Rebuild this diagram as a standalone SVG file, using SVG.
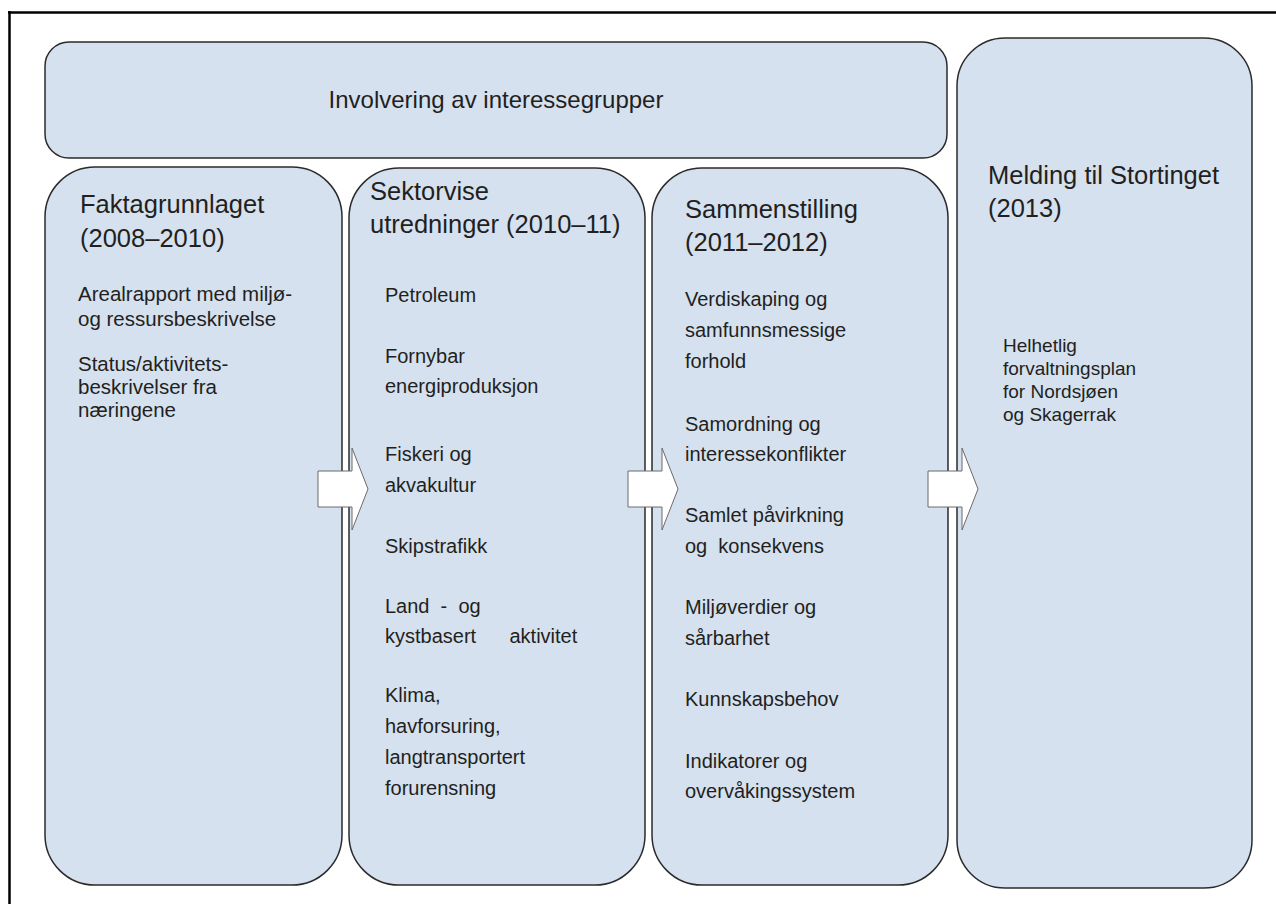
<svg xmlns="http://www.w3.org/2000/svg" width="1276" height="904" viewBox="0 0 1276 904">
<style>
.box{fill:#d5e1ef;stroke:#2b2b2b;stroke-width:1.5}
.t{font-family:"Liberation Sans",Arial,sans-serif;fill:#231f20}
.h{font-size:25.5px}
.b{font-size:20px}
.s{font-size:19px}
.arrow{fill:#ffffff;stroke:#6b6b6b;stroke-width:1}
</style>
<rect width="1276" height="904" fill="#ffffff"/>
<g id="frame">
<line x1="8" y1="12.5" x2="1276" y2="12.5" stroke="#000" stroke-width="2.5"/>
<line x1="9.5" y1="11" x2="9.5" y2="904" stroke="#000" stroke-width="2.5"/>
</g>
<g id="top">
<rect class="box" x="45" y="42" width="902" height="116" rx="24"/>
<text class="t" x="496" y="108" font-size="24" text-anchor="middle">Involvering av interessegrupper</text>
</g>
<g id="col1">
<rect class="box" x="45" y="167" width="297" height="718" rx="50"/>
<text class="t h" x="80" y="213">Faktagrunnlaget</text>
<text class="t h" x="80" y="247">(2008–2010)</text>
<text class="t" font-size="20.5" x="78" y="301">Arealrapport med miljø-</text>
<text class="t" font-size="20.5" x="78" y="326">og ressursbeskrivelse</text>
<text class="t" font-size="20.5" x="78" y="371">Status/aktivitets-</text>
<text class="t" font-size="20.5" x="78" y="394">beskrivelser fra</text>
<text class="t" font-size="20.5" x="78" y="417">næringene</text>
</g>
<g id="col2">
<rect class="box" x="349" y="168" width="296" height="717" rx="50"/>
<text class="t h" x="370" y="200">Sektorvise</text>
<text class="t h" x="370" y="233">utredninger (2010–11)</text>
<text class="t b" x="385" y="302">Petroleum</text>
<text class="t b" x="385" y="363">Fornybar</text>
<text class="t b" x="385" y="393">energiproduksjon</text>
<text class="t b" x="385" y="461">Fiskeri og</text>
<text class="t b" x="385" y="492">akvakultur</text>
<text class="t b" x="385" y="553">Skipstrafikk</text>
<text class="t b" x="385" y="613" xml:space="preserve">Land  -  og</text>
<text class="t b" x="385" y="643" xml:space="preserve">kystbasert      aktivitet</text>
<text class="t b" x="385" y="702">Klima,</text>
<text class="t b" x="385" y="733">havforsuring,</text>
<text class="t b" x="385" y="764">langtransportert</text>
<text class="t b" x="385" y="795">forurensning</text>
</g>
<g id="col3">
<rect class="box" x="652" y="168" width="296" height="717" rx="50"/>
<text class="t h" x="685" y="218">Sammenstilling</text>
<text class="t h" x="685" y="251">(2011–2012)</text>
<text class="t b" x="685" y="306">Verdiskaping og</text>
<text class="t b" x="685" y="337">samfunnsmessige</text>
<text class="t b" x="685" y="368">forhold</text>
<text class="t b" x="685" y="431">Samordning og</text>
<text class="t b" x="685" y="461">interessekonflikter</text>
<text class="t b" x="685" y="522">Samlet påvirkning</text>
<text class="t b" x="685" y="553" xml:space="preserve">og  konsekvens</text>
<text class="t b" x="685" y="614">Miljøverdier og</text>
<text class="t b" x="685" y="645">sårbarhet</text>
<text class="t b" x="685" y="706">Kunnskapsbehov</text>
<text class="t b" x="685" y="768">Indikatorer og</text>
<text class="t b" x="685" y="798">overvåkingssystem</text>
</g>
<g id="col4">
<rect class="box" x="957" y="38" width="295" height="850" rx="48"/>
<text class="t h" x="988" y="184">Melding til Stortinget</text>
<text class="t h" x="988" y="217">(2013)</text>
<text class="t s" x="1003" y="352">Helhetlig</text>
<text class="t s" x="1003" y="375">forvaltningsplan</text>
<text class="t s" x="1003" y="398">for Nordsjøen</text>
<text class="t s" x="1003" y="421">og Skagerrak</text>
</g>
<g id="connectors">
<path class="arrow" d="M318,471 H352 V448 L368,489 L352,530 V507 H318 Z"/>
<path class="arrow" d="M628,471 H662 V448 L678,489 L662,530 V507 H628 Z"/>
<path class="arrow" d="M928,471 H962 V448 L978,489 L962,530 V507 H928 Z"/>
</g>
</svg>
